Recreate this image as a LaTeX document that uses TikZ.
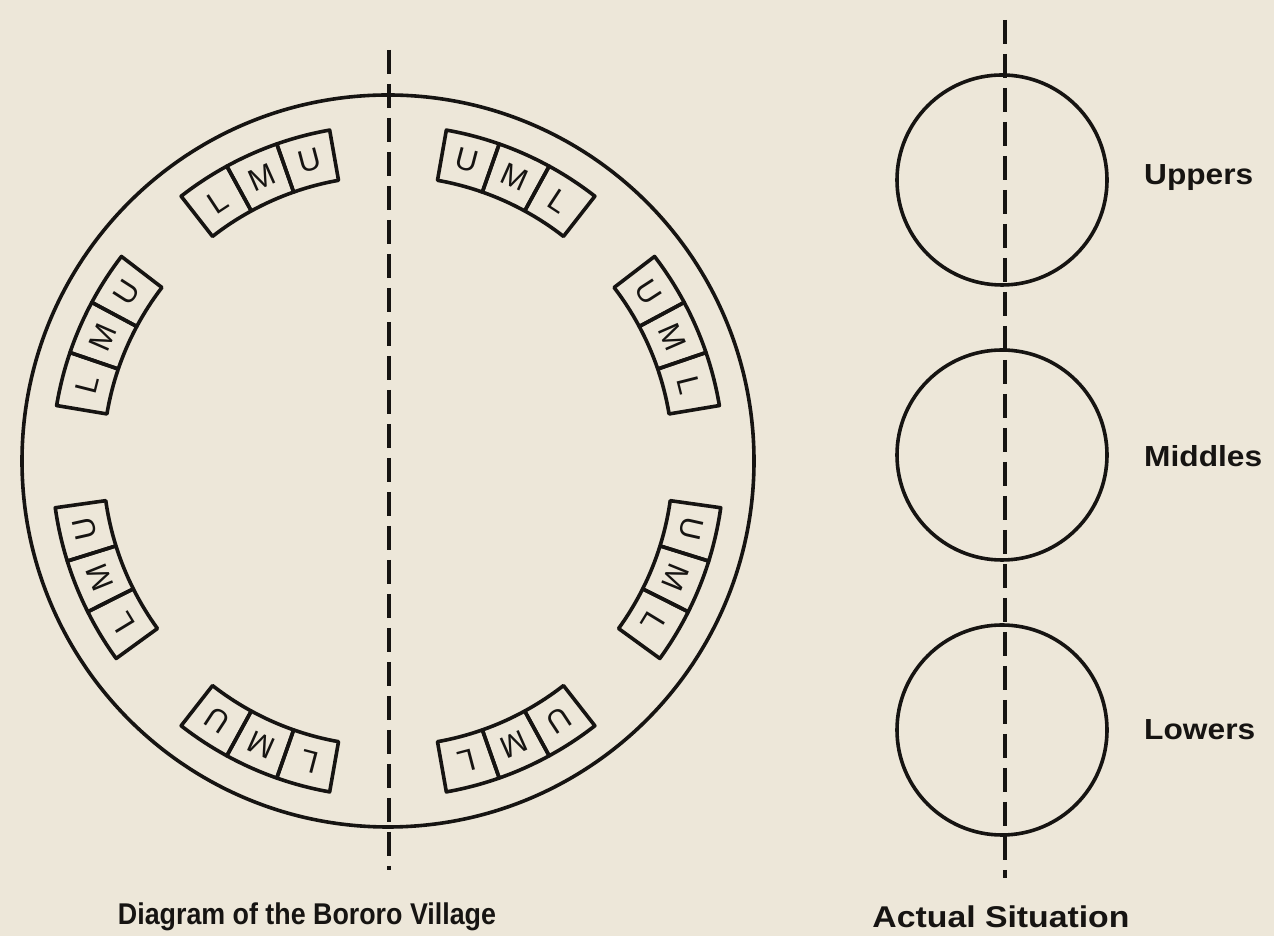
\documentclass[tikz,border=0pt]{standalone}
\usepackage{fontspec}
\setmainfont{Liberation Sans}
\definecolor{paper}{RGB}{237,231,217}
\definecolor{ink}{RGB}{22,20,18}
\begin{document}
\begin{tikzpicture}[x=1pt,y=1pt,
  boxline/.style={draw=ink, line width=3.6pt, line join=round},
  ring/.style={draw=ink, line width=3.6pt, circle, inner sep=0pt},
  divider/.style={draw=ink, line width=4pt, dash pattern=on 24pt off 10pt},
  letter/.style={font=\fontsize{31}{31}\selectfont, text=ink, inner sep=0pt},
  label/.style={font=\bfseries\fontsize{29}{29}\selectfont, text=ink, inner sep=0pt},
  caption/.style={font=\bfseries\fontsize{30}{30}\selectfont, text=ink, inner sep=0pt}
]
\fill[paper] (0,0) rectangle (1274,936);
\useasboundingbox (0,0) rectangle (1274,936);

% village
\coordinate (C) at (388,475);
\node[ring, minimum size=732pt] (village) at (C) {};

\foreach \t/\s [count=\g] in {114/1, 156.5/1, 202/1, 246/1, 66/-1, 23.5/-1, -22/-1, -66/-1} {
  \foreach \l/\k in {L/1, M/0, U/-1} {
    \pgfmathsetmacro\ph{\t+\s*\k*9.333}
    \pgfmathsetmacro\pa{\ph-4.667}
    \pgfmathsetmacro\pb{\ph+4.667}
    \pgfmathsetmacro\rot{\ph-90}
    \draw[boxline] ([shift={(\pa:285)}]C) arc[start angle=\pa, end angle=\pb, radius=285]
      -- ([shift={(\pb:336)}]C) arc[start angle=\pb, end angle=\pa, radius=336] -- cycle;
    \node[letter, rotate=\rot] (g\g\l) at ([shift={(\ph:310.5)}]C) {\l};
  }
}

\coordinate (vtop) at (389,886);
\coordinate (vbot) at (389,66);
\draw[divider] (vtop) -- (vbot);

% actual situation
\node[ring, minimum size=210pt] (uppers) at (1002,756) {};
\node[ring, minimum size=210pt] (middles) at (1002,481) {};
\node[ring, minimum size=210pt] (lowers) at (1002,206) {};
\coordinate (atop) at (1005,916);
\coordinate (abot) at (1005,58);
\draw[divider] (atop) -- (abot);

\node[label, anchor=base west] (uppersL) at (1144,751) {\resizebox{109pt}{\height}{Uppers}};
\node[label, anchor=base west] (middlesL) at (1144,469) {\resizebox{118pt}{\height}{Middles}};
\node[label, anchor=base west] (lowersL) at (1144,196) {\resizebox{111pt}{\height}{Lowers}};

\node[caption, anchor=base] (cap1) at (307,11) {\resizebox{378pt}{\height}{Diagram of the Bororo Village}};
\node[caption, anchor=base] (cap2) at (1001,8) {\resizebox{257pt}{\height}{Actual Situation}};
\end{tikzpicture}
\end{document}
